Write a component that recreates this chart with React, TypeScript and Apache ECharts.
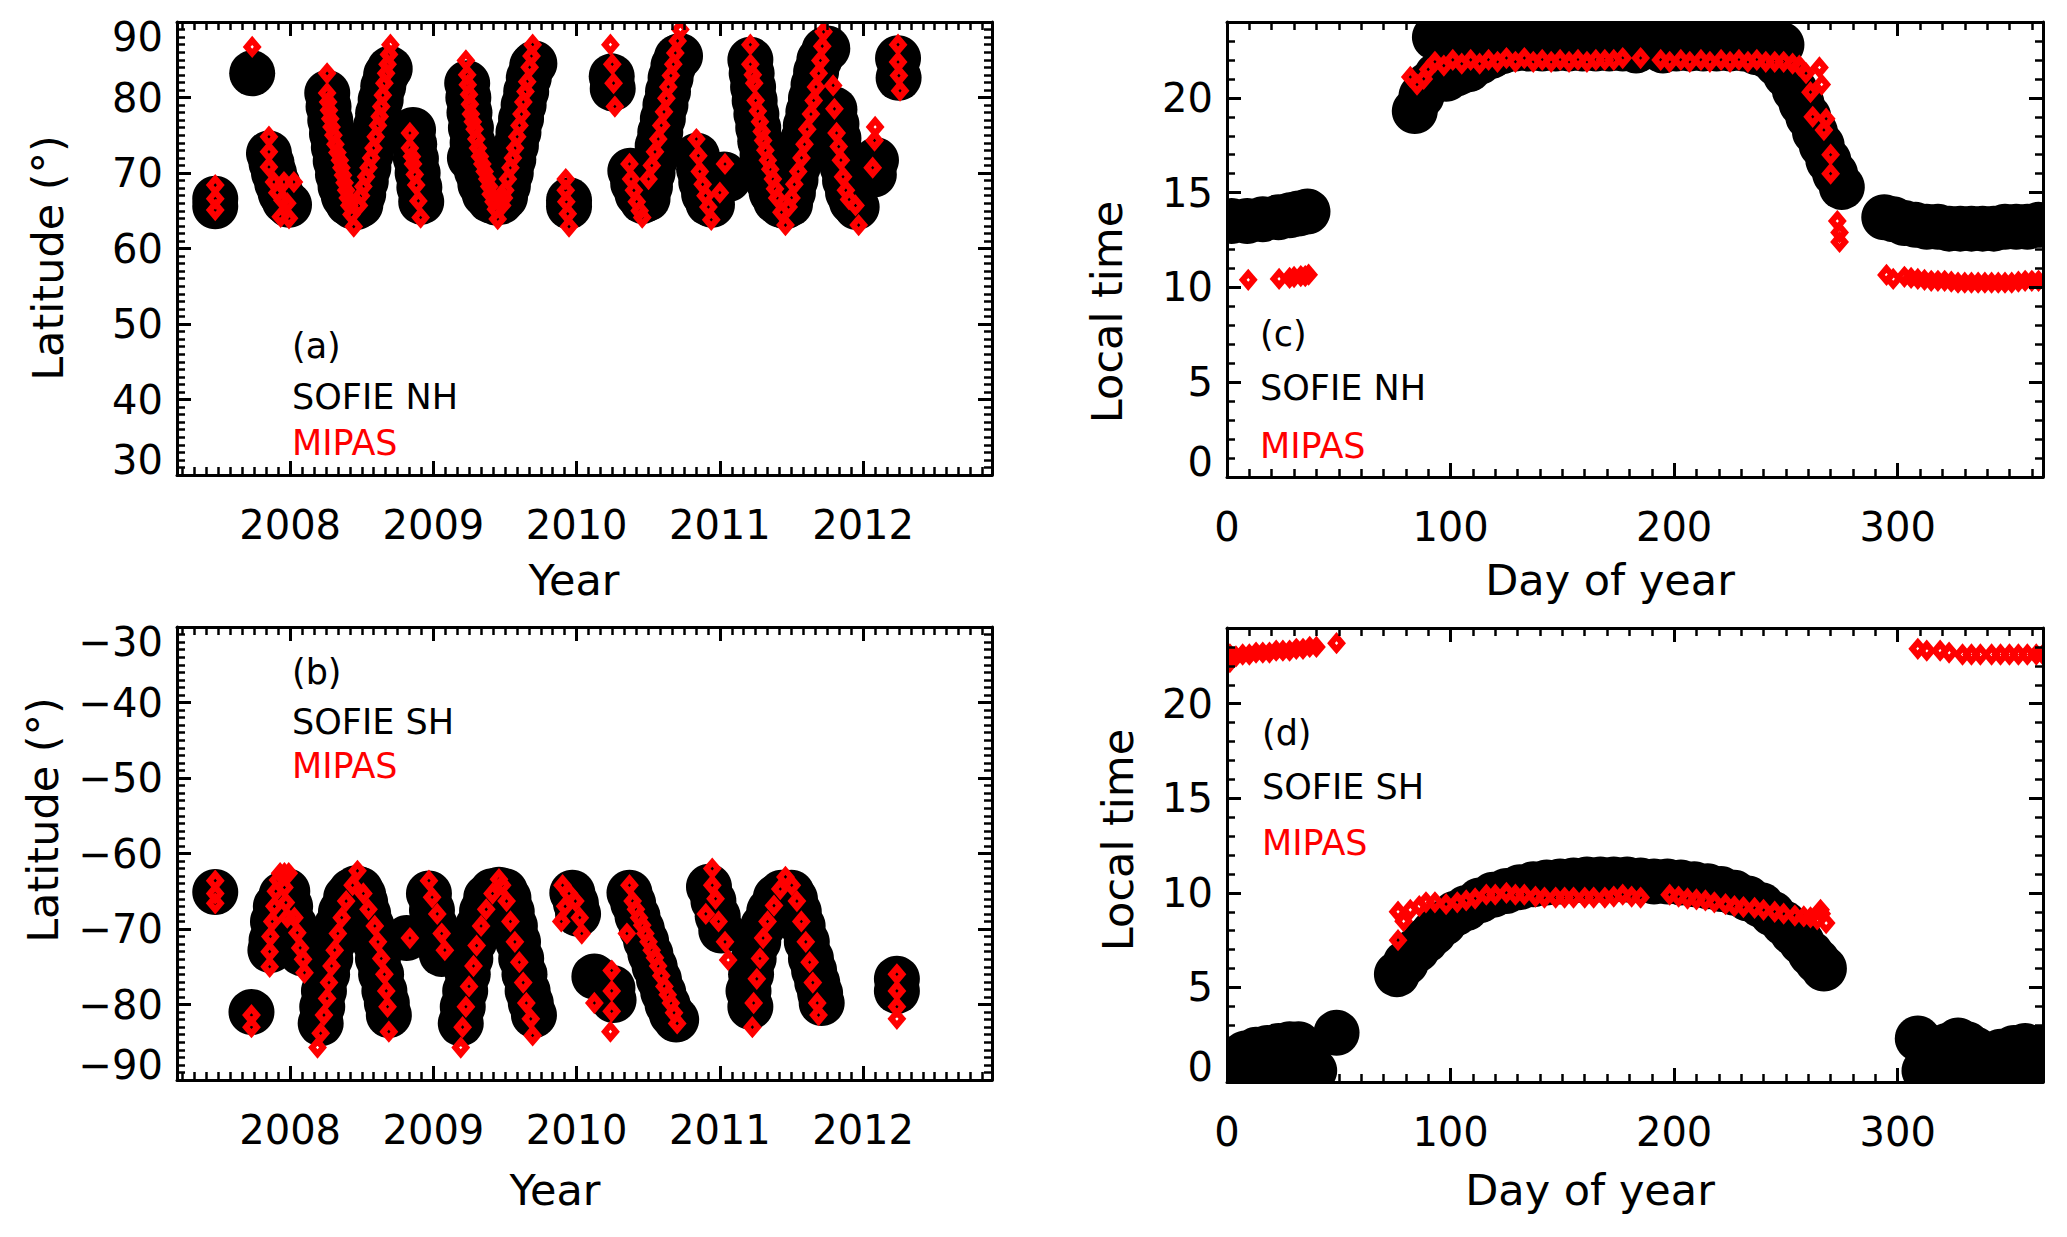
import React, { useEffect, useRef } from "react";
import * as echarts from "echarts";

type Pt = [number, number];

// ---- axis tick values ----
const yearTicks = [2008, 2009, 2010, 2011, 2012];
const latNorthTicks = [30, 40, 50, 60, 70, 80, 90];
const latSouthTicks = [-90, -80, -70, -60, -50, -40, -30];
const dayTicks = [0, 100, 200, 300];
const hourTicks = [0, 5, 10, 15, 20];

const yearRange: Pt = [2007.21, 2012.9];
const latNorthRange: Pt = [30, 90];
const latSouthRange: Pt = [-90, -30];
const dayRange: Pt = [0, 365];
const hourRange: Pt = [0, 24];

// ---- (a) SOFIE NH latitude vs year ----
const nhSofie: Pt[] = [
  [2007.477, 66.6], [2007.477, 65.6],
  [2007.735, 83.2],
  [2007.852, 72.6], [2007.870, 71.3], [2007.887, 70.0], [2007.910, 68.6], [2007.934, 67.3], [2007.962, 66.3], [2007.992, 65.8],
  [2008.259, 80.6], [2008.268, 78.8], [2008.280, 77.0], [2008.292, 75.2], [2008.305, 73.4], [2008.318, 71.6], [2008.334, 69.8], [2008.352, 68.2], [2008.375, 66.9], [2008.405, 66.0], [2008.435, 65.6], [2008.462, 65.5],
  [2008.490, 65.8], [2008.510, 67.2], [2008.528, 68.9], [2008.546, 70.7], [2008.563, 72.5], [2008.580, 74.3], [2008.597, 76.1], [2008.614, 77.9], [2008.632, 79.7], [2008.650, 81.5], [2008.670, 83.0], [2008.695, 83.8],
  [2008.858, 75.7], [2008.866, 73.8], [2008.878, 71.9], [2008.890, 70.0], [2008.902, 68.1], [2008.915, 66.2],
  [2009.236, 81.9], [2009.244, 80.0], [2009.252, 78.0], [2009.262, 76.0], [2009.274, 74.0], [2009.288, 72.0], [2009.305, 70.2], [2009.328, 68.5], [2009.358, 67.2], [2009.395, 66.4], [2009.435, 66.1], [2009.470, 66.2], [2009.255, 72.0],
  [2009.500, 66.8], [2009.520, 68.3], [2009.540, 70.0], [2009.558, 71.8], [2009.576, 73.6], [2009.594, 75.4], [2009.612, 77.2], [2009.630, 79.0], [2009.648, 80.8], [2009.666, 82.6], [2009.690, 84.2], [2009.705, 84.5],
  [2009.947, 66.4], [2009.947, 65.6],
  [2010.245, 82.8], [2010.252, 81.2],
  [2010.375, 70.3], [2010.395, 68.6], [2010.425, 67.2], [2010.460, 66.3],
  [2010.495, 66.6], [2010.512, 68.2], [2010.530, 70.0], [2010.548, 71.8], [2010.566, 73.6], [2010.584, 75.4], [2010.602, 77.2], [2010.620, 79.0], [2010.638, 80.8], [2010.656, 82.6], [2010.676, 84.2], [2010.700, 85.3], [2010.722, 85.5],
  [2010.840, 72.3], [2010.855, 70.5], [2010.870, 68.8], [2010.890, 67.2], [2010.920, 66.0], [2010.945, 65.8],
  [2011.030, 69.8], [2011.060, 69.2],
  [2011.213, 85.0], [2011.222, 83.2], [2011.232, 81.4], [2011.243, 79.6], [2011.255, 77.8], [2011.268, 76.0], [2011.282, 74.2], [2011.298, 72.4], [2011.316, 70.6], [2011.337, 68.9], [2011.362, 67.4], [2011.392, 66.3], [2011.425, 65.8], [2011.458, 65.6],
  [2011.490, 65.9], [2011.510, 67.4], [2011.528, 69.1], [2011.546, 70.9], [2011.564, 72.7], [2011.582, 74.5], [2011.600, 76.3], [2011.618, 78.1], [2011.636, 79.9], [2011.654, 81.7], [2011.672, 83.4], [2011.695, 85.0], [2011.730, 86.3], [2011.750, 86.5],
  [2011.800, 78.4], [2011.814, 76.5], [2011.828, 74.6], [2011.842, 72.7], [2011.857, 70.8], [2011.874, 69.0], [2011.895, 67.4], [2011.922, 66.2], [2011.955, 65.5],
  [2012.090, 71.7], [2012.075, 69.8],
  [2012.244, 85.2], [2012.248, 82.6],
];

// ---- (a) MIPAS NH latitude vs year ----
const nhMipas: Pt[] = [
  [2007.477, 68.4], [2007.477, 66.6], [2007.477, 65.1],
  [2007.735, 86.7],
  [2007.852, 74.8], [2007.852, 72.8], [2007.852, 70.8], [2007.887, 68.8], [2007.910, 67.4], [2007.957, 68.8], [2007.946, 66.4], [2007.934, 64.2], [2008.026, 68.8], [2007.980, 66.0], [2007.992, 64.0],
  [2008.258, 83.2], [2008.258, 80.6], [2008.265, 79.4], [2008.271, 78.3], [2008.280, 77.2], [2008.289, 76.1], [2008.302, 75.0], [2008.316, 73.8], [2008.330, 72.7], [2008.347, 71.7], [2008.358, 70.7], [2008.369, 69.7], [2008.380, 68.7], [2008.391, 67.7], [2008.402, 66.7], [2008.413, 65.7], [2008.428, 64.5], [2008.444, 62.9],
  [2008.480, 65.7], [2008.495, 67.0], [2008.511, 68.2], [2008.530, 69.5], [2008.547, 70.7], [2008.565, 72.0], [2008.582, 73.3], [2008.597, 74.8], [2008.613, 76.3], [2008.625, 77.5], [2008.636, 78.8], [2008.647, 80.3], [2008.658, 81.9], [2008.670, 83.2], [2008.680, 84.4], [2008.690, 85.7], [2008.700, 87.0],
  [2008.836, 75.3], [2008.836, 73.3], [2008.850, 72.2], [2008.858, 71.2], [2008.870, 69.8], [2008.880, 68.4], [2008.895, 66.3], [2008.911, 64.1],
  [2009.227, 84.9], [2009.236, 83.0], [2009.240, 81.7], [2009.249, 80.4], [2009.255, 79.1], [2009.262, 77.8], [2009.275, 76.8], [2009.288, 75.8], [2009.300, 74.5], [2009.311, 73.3], [2009.325, 72.2], [2009.342, 71.2], [2009.358, 70.2], [2009.376, 69.2], [2009.390, 68.2], [2009.400, 67.2], [2009.420, 66.2], [2009.436, 65.2], [2009.449, 63.9],
  [2009.480, 65.7], [2009.493, 66.7], [2009.502, 67.7], [2009.520, 69.2], [2009.538, 70.7], [2009.555, 72.0], [2009.570, 73.3], [2009.585, 74.8], [2009.601, 76.3], [2009.615, 77.8], [2009.628, 79.4], [2009.643, 80.8], [2009.655, 82.1], [2009.672, 84.0], [2009.685, 85.5], [2009.693, 87.0],
  [2009.924, 69.2], [2009.924, 67.7], [2009.928, 66.2], [2009.938, 64.6], [2009.947, 62.9],
  [2010.236, 87.0], [2010.249, 84.4], [2010.258, 81.9], [2010.267, 78.8],
  [2010.369, 71.2], [2010.380, 69.2], [2010.400, 67.7], [2010.420, 66.2], [2010.440, 65.0], [2010.458, 64.1],
  [2010.502, 69.2], [2010.525, 71.0], [2010.547, 72.8], [2010.570, 74.5], [2010.591, 76.3], [2010.610, 78.1], [2010.627, 79.9], [2010.640, 81.4], [2010.658, 82.9], [2010.675, 84.4], [2010.689, 85.9], [2010.705, 87.5], [2010.724, 89.0],
  [2010.836, 74.5], [2010.850, 72.3], [2010.860, 70.2], [2010.880, 68.5], [2010.900, 67.0], [2010.920, 65.5], [2010.940, 63.8], [2011.000, 67.4], [2011.036, 71.2],
  [2011.213, 87.0], [2011.213, 84.4], [2011.230, 83.0], [2011.240, 81.9], [2011.250, 79.6], [2011.265, 78.2], [2011.280, 76.8], [2011.292, 75.5], [2011.302, 74.3], [2011.318, 73.0], [2011.335, 71.7], [2011.352, 70.5], [2011.370, 69.2], [2011.385, 67.9], [2011.400, 66.7], [2011.430, 64.8], [2011.458, 63.1],
  [2011.480, 65.5], [2011.500, 66.7], [2011.520, 68.5], [2011.547, 70.2], [2011.570, 72.0], [2011.591, 73.8], [2011.610, 75.8], [2011.636, 77.8], [2011.655, 79.6], [2011.671, 81.4], [2011.690, 83.2], [2011.702, 84.9], [2011.715, 86.8], [2011.724, 88.7],
  [2011.791, 81.6], [2011.800, 78.5], [2011.815, 75.3], [2011.830, 73.5], [2011.845, 71.7], [2011.860, 69.5], [2011.880, 67.7], [2011.902, 66.5], [2011.947, 65.7], [2011.969, 63.1],
  [2012.084, 76.1], [2012.080, 74.3], [2012.067, 70.7],
  [2012.244, 87.0], [2012.244, 84.7], [2012.250, 82.9], [2012.258, 80.9],
];

// ---- (b) SOFIE SH latitude vs year ----
const shSofie: Pt[] = [
  [2007.477, -65.1],
  [2007.730, -81.0],
  [2007.862, -72.8], [2007.870, -71.5], [2007.880, -69.0], [2007.900, -67.0], [2007.940, -65.5], [2007.980, -65.0], [2008.000, -67.0], [2008.030, -69.5], [2008.060, -71.8], [2008.080, -73.2],
  [2008.213, -82.5], [2008.224, -80.3], [2008.236, -78.2], [2008.258, -76.0], [2008.280, -73.9], [2008.302, -71.7], [2008.324, -69.6], [2008.355, -67.7], [2008.391, -65.8], [2008.425, -65.0], [2008.460, -64.6], [2008.490, -64.8],
  [2008.510, -65.5], [2008.524, -66.5], [2008.545, -68.0], [2008.569, -69.6], [2008.590, -71.7], [2008.613, -73.9], [2008.635, -76.0], [2008.658, -78.2], [2008.675, -79.8], [2008.689, -81.4],
  [2008.813, -71.2],
  [2008.969, -65.3], [2008.990, -67.5], [2009.013, -69.6], [2009.035, -71.5], [2009.058, -73.3],
  [2009.191, -82.5], [2009.205, -80.3], [2009.222, -78.2], [2009.240, -76.0], [2009.258, -73.9], [2009.285, -71.7], [2009.311, -69.6], [2009.340, -67.6], [2009.369, -65.8], [2009.410, -65.0], [2009.458, -64.8],
  [2009.500, -65.0], [2009.524, -65.9], [2009.547, -67.7], [2009.569, -69.6], [2009.591, -71.7], [2009.613, -73.9], [2009.636, -76.0], [2009.658, -78.2], [2009.680, -79.8], [2009.702, -81.4],
  [2009.970, -65.2], [2009.995, -66.6], [2010.010, -68.0],
  [2010.124, -76.3], [2010.250, -77.8], [2010.258, -79.4],
  [2010.369, -65.2], [2010.395, -66.6], [2010.425, -68.3], [2010.455, -70.0], [2010.485, -71.6], [2010.515, -73.3], [2010.545, -75.0], [2010.575, -76.7], [2010.605, -78.4], [2010.635, -80.0], [2010.665, -81.3], [2010.695, -82.0],
  [2010.924, -64.4], [2010.955, -66.3], [2010.985, -68.3], [2011.010, -70.2],
  [2011.213, -80.3], [2011.200, -78.2], [2011.218, -76.0], [2011.236, -73.9], [2011.268, -71.7], [2011.302, -69.6], [2011.345, -67.6], [2011.391, -65.8], [2011.430, -65.2], [2011.465, -65.2],
  [2011.500, -65.2], [2011.524, -66.0], [2011.551, -67.7], [2011.578, -69.6], [2011.607, -71.7], [2011.636, -73.9], [2011.658, -75.5], [2011.680, -77.1], [2011.700, -78.5], [2011.711, -79.8],
  [2012.236, -76.6], [2012.236, -78.2],
];

// ---- (b) MIPAS SH latitude vs year ----
const shMipas: Pt[] = [
  [2007.477, -63.6], [2007.477, -65.3], [2007.477, -66.6],
  [2007.730, -81.4], [2007.730, -83.0],
  [2007.857, -75.0], [2007.857, -73.0], [2007.862, -71.0], [2007.875, -69.0], [2007.890, -67.0], [2007.900, -65.0], [2007.915, -63.5], [2007.930, -62.6], [2007.960, -62.6], [2007.990, -62.6], [2007.960, -64.5], [2007.970, -66.5], [2007.980, -68.5], [2008.030, -68.5], [2008.050, -70.5], [2008.070, -72.5], [2008.090, -74.0], [2008.100, -75.8],
  [2008.191, -85.7], [2008.213, -83.8], [2008.236, -81.4], [2008.258, -79.2], [2008.271, -77.1], [2008.289, -74.9], [2008.311, -72.8], [2008.333, -70.6], [2008.360, -68.5], [2008.391, -66.3], [2008.436, -64.2], [2008.470, -62.3],
  [2008.511, -65.3], [2008.547, -67.4], [2008.591, -69.6], [2008.613, -71.7], [2008.636, -73.9], [2008.658, -76.0], [2008.671, -78.2], [2008.680, -80.3], [2008.689, -83.6],
  [2008.836, -71.2],
  [2008.969, -63.6], [2008.991, -65.8], [2009.027, -68.0], [2009.058, -70.6], [2009.080, -72.8],
  [2009.191, -85.7], [2009.204, -83.0], [2009.227, -80.3], [2009.249, -77.6], [2009.280, -74.9], [2009.302, -72.2], [2009.333, -69.6], [2009.369, -67.4], [2009.413, -65.3], [2009.458, -63.4],
  [2009.480, -64.2], [2009.511, -66.3], [2009.538, -69.0], [2009.569, -71.7], [2009.600, -74.4], [2009.627, -77.1], [2009.649, -79.8], [2009.680, -81.9], [2009.693, -84.1],
  [2009.902, -64.2], [2009.947, -65.3], [2009.991, -66.3], [2010.022, -68.5], [2010.036, -70.6], [2009.893, -69.0], [2009.920, -67.0],
  [2010.124, -79.8], [2010.245, -75.5], [2010.245, -78.2], [2010.245, -80.9], [2010.236, -83.6],
  [2010.351, -70.6], [2010.369, -64.2], [2010.391, -66.3], [2010.414, -67.4], [2010.436, -68.5], [2010.458, -69.5], [2010.480, -70.6], [2010.502, -71.7], [2010.524, -72.8], [2010.547, -73.8], [2010.569, -74.9], [2010.591, -76.2], [2010.613, -77.6], [2010.636, -78.7], [2010.658, -79.8], [2010.680, -81.1], [2010.702, -82.5],
  [2010.947, -62.0], [2010.947, -64.2], [2010.970, -66.0], [2010.902, -68.0], [2010.991, -69.0], [2011.036, -71.7], [2011.058, -74.1],
  [2011.227, -83.0], [2011.236, -79.8], [2011.258, -76.6], [2011.280, -73.9], [2011.302, -71.2], [2011.333, -69.0], [2011.378, -66.9], [2011.422, -64.7], [2011.458, -63.1],
  [2011.502, -64.2], [2011.538, -66.3], [2011.569, -69.0], [2011.600, -71.7], [2011.627, -74.4], [2011.649, -77.1], [2011.680, -79.8], [2011.689, -81.4],
  [2012.236, -76.0], [2012.236, -78.2], [2012.236, -80.3], [2012.236, -81.9],
];

// ---- (c) SOFIE NH local time vs day of year ----
const nhTimeSofie: Pt[] = [
  [2, 13.5], [9, 13.5], [16, 13.6], [23, 13.7], [28, 13.8], [32, 13.9], [36, 14.0],
  [84, 19.3], [87, 20.1], [90, 20.7], [94, 21.2], [98, 21.0], [103, 21.3], [108, 21.5], [113, 21.9], [118, 22.2], [123, 22.45], [129, 22.6], [135, 22.6], [141, 22.6], [147, 22.6], [153, 22.6], [159, 22.6], [165, 22.6], [171, 22.6], [177, 22.6], [183, 22.5], [195, 22.5], [201, 22.6], [207, 22.6], [213, 22.6], [219, 22.6], [225, 22.6], [231, 22.6], [237, 22.4], [242, 22.2], [246, 21.8], [250, 21.2], [254, 20.4], [257, 19.7], [260, 19.0], [263, 18.2], [266, 17.5], [269, 16.7], [272, 16.0], [275, 15.3],
  [93, 23.2], [97, 23.3], [101, 23.3], [107, 23.4], [113, 23.4], [119, 23.4], [125, 23.4], [131, 23.4], [137, 23.4], [143, 23.4], [149, 23.4], [155, 23.4], [161, 23.4], [167, 23.4], [173, 23.4], [179, 23.4], [185, 23.4], [191, 23.4], [197, 23.4], [203, 23.4], [209, 23.4], [215, 23.4], [221, 23.4], [227, 23.4], [233, 23.3], [239, 23.2], [244, 23.0], [248, 22.8],
  [294, 13.7], [298, 13.6], [303, 13.4], [308, 13.3], [313, 13.2], [318, 13.2], [323, 13.1], [328, 13.1], [333, 13.1], [338, 13.1], [343, 13.1], [348, 13.2], [353, 13.2], [358, 13.2], [363, 13.3],
];

// ---- (c) MIPAS NH local time vs day of year ----
const nhTimeMipas: Pt[] = [
  [9.5, 10.4], [23.3, 10.45], [28, 10.5], [30, 10.55], [33, 10.6], [35, 10.6], [36.5, 10.67],
  [82, 21.1], [85, 20.7], [88, 21.0], [90, 21.5], [93, 21.9], [97, 21.7], [101, 22.0], [105, 21.8], [109, 22.0], [113, 21.8], [117, 22.0], [121, 21.9], [125, 22.1], [129, 21.9], [133, 22.1], [137, 21.9], [141, 22.0], [145, 21.9], [149, 22.0], [153, 21.9], [157, 22.0], [161, 21.9], [165, 22.0], [169, 22.0], [173, 22.0], [177, 22.1], [185, 22.1],
  [194, 22.0], [198, 21.9], [203, 22.0], [207, 21.9], [212, 22.0], [216, 21.9], [221, 22.0], [225, 21.9], [229, 22.0], [233, 21.9], [237, 22.0], [241, 21.9], [245, 21.9], [249, 21.9], [253, 21.8], [256, 21.7], [259, 21.3], [261, 20.3], [262, 19.0], [265, 21.6], [266, 20.7], [267, 18.3], [268, 18.9], [270, 17.0], [270, 16.0], [273, 13.5], [274, 12.9], [274, 12.4],
  [295, 10.66], [298, 10.45], [303, 10.56], [306, 10.5], [309, 10.45], [312, 10.4], [315, 10.35], [318, 10.35], [321, 10.35], [324, 10.3], [327, 10.25], [330, 10.25], [333, 10.25], [336, 10.25], [339, 10.25], [342, 10.25], [345, 10.25], [348, 10.25], [351, 10.25], [354, 10.3], [357, 10.35], [360, 10.35], [363, 10.35],
];

// ---- (d) SOFIE SH local time vs day of year ----
const shTimeSofie: Pt[] = [
  [3, 1.2], [8, 1.5], [13, 1.7], [18, 1.8], [23, 1.9], [28, 2.0], [32, 2.0], [39, 0.6], [49, 2.6], [4, 0.3], [12, 0.4], [20, 0.4], [28, 0.5], [35, 0.4],
  [76, 5.7], [80, 6.3], [85, 7.0], [89, 7.5], [92.5, 7.9], [97, 8.4], [102, 8.9], [107, 9.2], [113, 9.6], [119, 9.9], [125, 10.1], [131, 10.3], [137, 10.45], [143, 10.55], [149, 10.6], [155, 10.65], [161, 10.7], [167, 10.7], [173, 10.7], [179, 10.7], [185, 10.65], [191, 10.6], [197, 10.6], [203, 10.55], [209, 10.45], [215, 10.35], [221, 10.2], [227, 10.0], [233, 9.7], [239, 9.35], [244, 8.9], [249, 8.4], [253, 7.9], [257, 7.4], [261, 6.8], [264, 6.4], [267, 6.0],
  [309, 2.3], [313, 1.9], [318, 1.6], [322, 1.9], [327, 2.2], [331, 2.0], [335, 1.7], [341, 1.4], [346, 1.6], [352, 1.8], [357, 1.9], [362, 1.8], [366, 1.7], [312, 0.6], [320, 0.4], [330, 0.5], [340, 0.3], [350, 0.4], [360, 0.5],
];

// ---- (d) MIPAS SH local time vs day of year ----
const shTimeMipas: Pt[] = [
  [1.3, 22.6], [1.3, 22.2], [4, 22.5], [7, 22.6], [10, 22.6], [13, 22.7], [16, 22.7], [19, 22.7], [22, 22.8], [25, 22.8], [28, 22.8], [31, 22.9], [34, 22.9], [37, 23.0], [40, 23.0], [49, 23.2],
  [76.5, 9.0], [76.5, 7.5], [79, 8.5], [82, 9.1], [86, 9.3], [89, 9.5], [93, 9.5], [98, 9.4], [103, 9.5], [107, 9.6], [111, 9.7], [116, 9.9], [120, 9.9], [125, 10.0], [129, 9.9], [133, 9.9], [138, 9.8], [142, 9.75], [147, 9.75], [151, 9.75], [155, 9.75], [160, 9.75], [164, 9.75], [169, 9.75], [173, 9.8], [177, 9.9], [181, 9.8], [185, 9.75],
  [198, 9.9], [202, 9.8], [206, 9.7], [210, 9.65], [214, 9.6], [218, 9.5], [223, 9.4], [227, 9.3], [231, 9.25], [236, 9.2], [240, 9.1], [245, 9.0], [249, 8.9], [254, 8.8], [258, 8.75], [261, 8.7], [264, 8.6], [265.5, 9.1], [266, 8.9], [268, 8.4],
  [309, 22.9], [313, 22.8], [319, 22.8], [323, 22.7], [329, 22.6], [333, 22.6], [337, 22.6], [342, 22.6], [346, 22.6], [350, 22.6], [354, 22.6], [358, 22.6], [362, 22.6], [365, 22.6],
];

const FONT = "DejaVu Sans";

function stepValues(from: number, to: number, step: number): number[] {
  const out: number[] = [];
  const n = Math.round((to - from) / step);
  for (let i = 0; i <= n; i++) out.push(+(from + i * step).toFixed(6));
  return out;
}

function monthValues(range: Pt): number[] {
  const out: number[] = [];
  for (let k = Math.ceil(range[0] * 12); k <= Math.floor(range[1] * 12); k++) out.push(k / 12);
  return out;
}

function axesFor(
  dim: "x" | "y",
  gridIndex: number,
  range: Pt,
  major: number[],
  minor: number[],
  fmt: (v: number) => string,
  margin: number
) {
  const mainPos = dim === "x" ? "bottom" : "left";
  const oppPos = dim === "x" ? "top" : "right";
  const base = {
    type: "value",
    gridIndex,
    min: range[0],
    max: range[1],
    splitLine: { show: false },
    minorTick: { show: false },
    minorSplitLine: { show: false },
    z: 3,
  };
  const line = { show: true, onZero: false, lineStyle: { color: "#000", width: 3 } };
  const noLine = { show: false, onZero: false };
  const majTick = { show: true, inside: true, length: 14, customValues: major, lineStyle: { color: "#000", width: 3 } };
  const minTick = { show: true, inside: true, length: 8, customValues: minor, lineStyle: { color: "#000", width: 2.5 } };
  return [
    {
      ...base,
      position: mainPos,
      axisLine: line,
      axisTick: majTick,
      axisLabel: {
        show: true,
        customValues: major,
        formatter: fmt,
        margin,
        fontSize: 40,
        fontFamily: FONT,
        color: "#000",
        rich: {
          dn: { fontSize: 40, fontFamily: FONT, color: "#000", padding: [30, 0, 0, 0] },
          up: { fontSize: 40, fontFamily: FONT, color: "#000", padding: [0, 0, 30, 0] },
        },
      },
    },
    { ...base, position: mainPos, axisLine: noLine, axisTick: minTick, axisLabel: { show: false } },
    { ...base, position: oppPos, axisLine: line, axisTick: majTick, axisLabel: { show: false } },
    { ...base, position: oppPos, axisLine: noLine, axisTick: minTick, axisLabel: { show: false } },
  ];
}

const minus = (v: number) => (v < 0 ? "\u2212" + Math.abs(v) : String(v));

function App() {
  const ref = useRef<HTMLDivElement>(null);

  useEffect(() => {
    if (!ref.current) return;
    const chart = echarts.init(ref.current, undefined, { renderer: "svg" });

    const grids = [
      { left: 177, top: 22, width: 815, height: 453 },
      { left: 177, top: 627, width: 815, height: 453 },
      { left: 1227, top: 22, width: 816, height: 455 },
      { left: 1227, top: 628, width: 816, height: 454 },
    ].map((g) => ({ ...g, show: false, outerBoundsMode: "none", containLabel: false }));

    const yearMinor = monthValues(yearRange);
    const dayMinor = stepValues(10, 360, 10);
    const hourMinor = stepValues(1, 23, 1);
    const latNMinor = stepValues(31, 89, 1);
    const latSMinor = stepValues(-89, -31, 1);

    const fmtYear = (v: number) => String(v);
    const fmtLatN = (v: number) => (v === 90 ? "{dn|90}" : v === 30 ? "{up|30}" : String(v));
    const fmtLatS = (v: number) =>
      v === -30 ? "{dn|" + minus(v) + "}" : v === -90 ? "{up|" + minus(v) + "}" : minus(v);
    const fmtHour = (v: number) => (v === 0 ? "{up|0}" : String(v));
    const fmtDay = (v: number) => String(v);

    const xAxis = [
      ...axesFor("x", 0, yearRange, yearTicks, yearMinor, fmtYear, 30),
      ...axesFor("x", 1, yearRange, yearTicks, yearMinor, fmtYear, 30),
      ...axesFor("x", 2, dayRange, dayTicks, dayMinor, fmtDay, 30),
      ...axesFor("x", 3, dayRange, dayTicks, dayMinor, fmtDay, 30),
    ];
    const yAxis = [
      ...axesFor("y", 0, latNorthRange, latNorthTicks, latNMinor, fmtLatN, 14),
      ...axesFor("y", 1, latSouthRange, latSouthTicks, latSMinor, fmtLatS, 14),
      ...axesFor("y", 2, hourRange, hourTicks, hourMinor, fmtHour, 14),
      ...axesFor("y", 3, hourRange, hourTicks, hourMinor, fmtHour, 14),
    ];

    // SOFIE: large filled black circles, clipped to the plot frame
    const black = (data: Pt[], g: number) => ({
      type: "custom",
      xAxisIndex: g * 4,
      yAxisIndex: g * 4,
      data,
      encode: { x: 0, y: 1 },
      clip: true,
      silent: true,
      z: 2,
      renderItem: (_p: any, api: any) => {
        const c = api.coord([api.value(0), api.value(1)]);
        return { type: "circle", shape: { cx: c[0], cy: c[1], r: 23 }, style: { fill: "#000000" } };
      },
    });
    // MIPAS: thick red open diamonds
    const red = (data: Pt[], g: number) => ({
      type: "custom",
      xAxisIndex: g * 4,
      yAxisIndex: g * 4,
      data,
      encode: { x: 0, y: 1 },
      clip: true,
      silent: true,
      z: 2.5,
      renderItem: (_p: any, api: any) => {
        const c = api.coord([api.value(0), api.value(1)]);
        const hw = 5.5;
        const hh = 6.5;
        return {
          type: "polygon",
          shape: {
            points: [
              [c[0], c[1] - hh],
              [c[0] + hw, c[1]],
              [c[0], c[1] + hh],
              [c[0] - hw, c[1]],
            ],
          },
          style: { fill: "none", stroke: "#ff0000", lineWidth: 6 },
        };
      },
    });

    const text = (
      x: number,
      y: number,
      t: string,
      size: number,
      color = "#000",
      align = "left",
      rotation = 0
    ) => ({
      type: "text",
      x,
      y,
      rotation,
      silent: true,
      z: 10,
      style: {
        text: t,
        fontSize: size,
        fontFamily: FONT,
        fill: color,
        align,
        verticalAlign: "middle",
      },
    });

    const R = "#ff0000";
    const graphic = [
      text(48, 258, "Latitude (°)", 43, "#000", "center", Math.PI / 2),
      text(43, 820, "Latitude (°)", 43, "#000", "center", Math.PI / 2),
      text(1107, 312, "Local time", 43, "#000", "center", Math.PI / 2),
      text(1118, 840, "Local time", 43, "#000", "center", Math.PI / 2),
      text(574, 580, "Year", 43, "#000", "center"),
      text(555, 1190, "Year", 43, "#000", "center"),
      text(1610, 580, "Day of year", 43, "#000", "center"),
      text(1590, 1190, "Day of year", 43, "#000", "center"),
      text(292, 346, "(a)", 35),
      text(292, 397, "SOFIE NH", 35),
      text(292, 443, "MIPAS", 35, R),
      text(292, 672, "(b)", 35),
      text(292, 722, "SOFIE SH", 35),
      text(292, 766, "MIPAS", 35, R),
      text(1260, 334, "(c)", 35),
      text(1260, 388, "SOFIE NH", 35),
      text(1260, 446, "MIPAS", 35, R),
      text(1262, 733, "(d)", 35),
      text(1262, 787, "SOFIE SH", 35),
      text(1262, 843, "MIPAS", 35, R),
    ];

    chart.setOption({
      animation: false,
      backgroundColor: "#ffffff",
      grid: grids,
      xAxis,
      yAxis,
      series: [
        black(nhSofie, 0),
        red(nhMipas, 0),
        black(shSofie, 1),
        red(shMipas, 1),
        black(nhTimeSofie, 2),
        red(nhTimeMipas, 2),
        black(shTimeSofie, 3),
        red(shTimeMipas, 3),
      ],
      graphic,
    });

    return () => chart.dispose();
  }, []);

  return (
    <div
      ref={ref}
      style={{ position: "absolute", left: 0, top: 0, width: 2067, height: 1237, background: "#fff" }}
    />
  );
}

export default App;
